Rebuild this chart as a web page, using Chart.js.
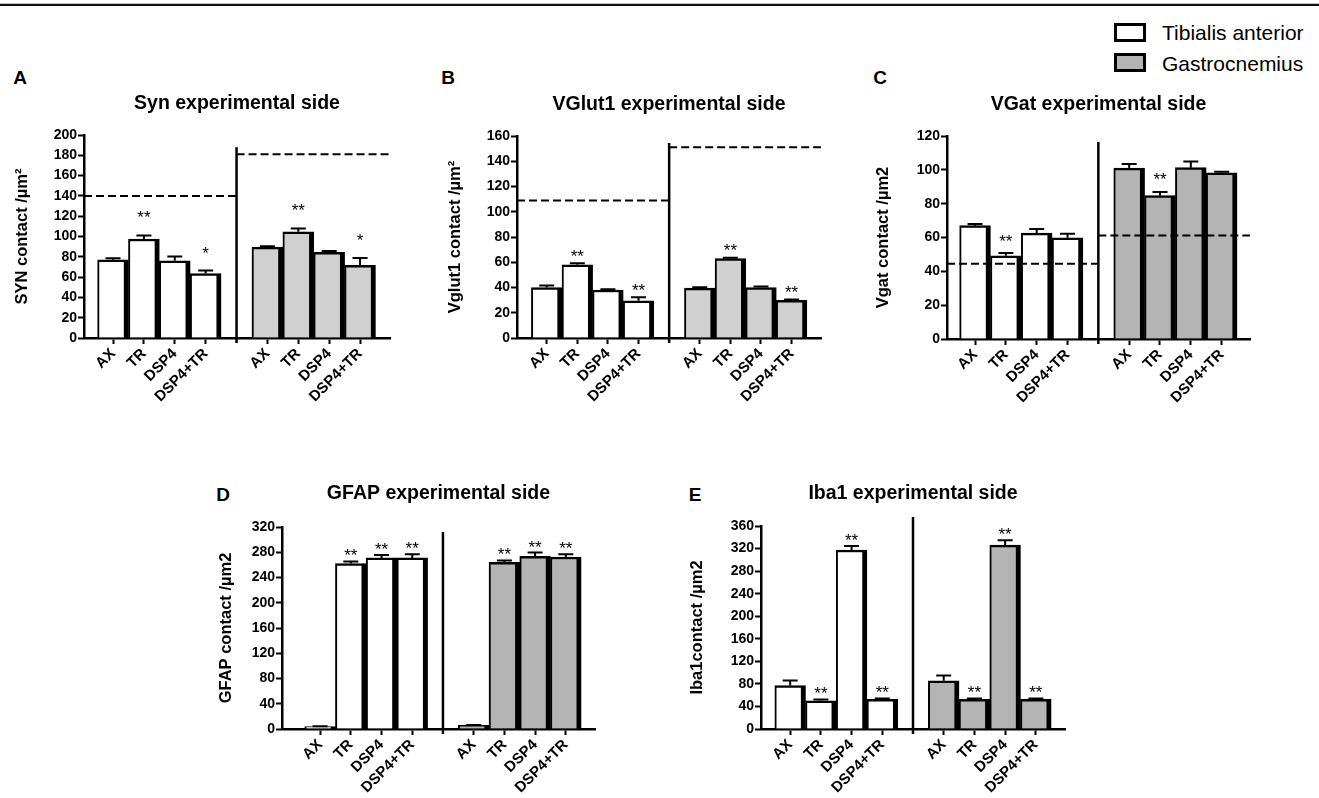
<!DOCTYPE html>
<html>
<head>
<meta charset="utf-8">
<script src="https://cdn.jsdelivr.net/npm/chart.js@4.4.1/dist/chart.umd.min.js"></script>
<style>
  body { margin: 0; width: 1319px; height: 798px; background: #fff; position: relative; overflow: hidden;
         font-family: "Liberation Sans", Arial, sans-serif; color: #000; }
  canvas { position: absolute; }
  .rule1 { position: absolute; left: 0; top: 3px; width: 1319px; height: 1px; background: #c8c8c8; }
  .rule2 { position: absolute; left: 0; top: 4px; width: 1319px; height: 2px; background: #111; }
  .letter { position: absolute; font-weight: bold; font-size: 19px; line-height: 1; transform: translate(-50%, -50%); }
  .lbox { position: absolute; left: 1114px; width: 32px; height: 19px; box-sizing: border-box; border: 3px solid #000; }
  .ltext { position: absolute; left: 1162px; font-size: 21px; line-height: 1; transform: translateY(-50%); }
</style>
</head>
<body>
<div class="rule1"></div>
<div class="rule2"></div>

<div class="lbox" style="top:23px;background:#fff"></div>
<div class="ltext" style="top:32px">Tibialis anterior</div>
<div class="lbox" style="top:53px;background:#b4b4b4"></div>
<div class="ltext" style="top:63px">Gastrocnemius</div>

<div class="letter" style="left:20px;top:77px">A</div>
<div class="letter" style="left:448px;top:77px">B</div>
<div class="letter" style="left:880px;top:77px">C</div>
<div class="letter" style="left:223px;top:494px">D</div>
<div class="letter" style="left:695px;top:494px">E</div>

<canvas id="cA"></canvas>
<canvas id="cB"></canvas>
<canvas id="cC"></canvas>
<canvas id="cD"></canvas>
<canvas id="cE"></canvas>

<script>
// groups on the x axis, repeated for each muscle
const groups = ['AX', 'TR', 'DSP4', 'DSP4+TR'];
const seriesNames = ['Tibialis anterior', 'Gastrocnemius'];

// Syn
const synTA = [77, 97.5, 76, 63.5];
const synTAErr = [1.5, 3.5, 4.3, 3];
const synGA = [89.5, 104.6, 84.5, 71.5];
const synGAErr = [1, 3.4, 1.1, 7.2];
const synControl = [140, 181];
const synStars = [['', '**', '', '*'], ['', '**', '', '*']];

// VGlut1
const vglutTA = [40, 58, 38, 29.5];
const vglutTAErr = [1.6, 1.3, 0.7, 2.8];
const vglutGA = [39.5, 63, 40, 29.8];
const vglutGAErr = [0.6, 0.6, 0.8, 0.6];
const vglutControl = [109, 151];
const vglutStars = [['', '**', '', '**'], ['', '**', '', '**']];

// VGat
const vgatTA = [67, 49.2, 62.6, 59.8];
const vgatTAErr = [1, 1.6, 2.4, 2.4];
const vgatGA = [101, 84.8, 101.3, 98.2];
const vgatGAErr = [2.4, 2.1, 3.6, 0.6];
const vgatControl = [44.5, 61.2];
const vgatStars = [['', '**', '', ''], ['', '**', '', '']];

// GFAP
const gfapTA = [4, 262, 271, 271];
const gfapTAErr = [0.5, 3.5, 4.5, 6];
const gfapGA = [6, 264, 273.5, 272.5];
const gfapGAErr = [0.5, 3, 6, 4.3];
const gfapStars = [['', '**', '**', '**'], ['', '**', '**', '**']];

// Iba1
const ibaTA = [77, 50, 317.5, 52.5];
const ibaTAErr = [9, 2.5, 7, 1.8];
const ibaGA = [85.6, 52.5, 326, 52.5];
const ibaGAErr = [9.4, 1.8, 8.7, 1.8];
const ibaStars = [['', '**', '**', '**'], ['', '**', '**', '**']];

const GAP = 4; // empty slot between the two muscles
const tickVals = groups.map((g, i) => i).concat(groups.map((g, i) => i + GAP + 1));
const labelAt = v => groups[v > GAP ? v - GAP - 1 : v] || '';

Chart.defaults.font.family = '"Liberation Sans", Arial, sans-serif';
Chart.defaults.color = '#000';

// divider, control level lines, error bars and stars
const extras = {
  id: 'extras',
  afterDatasetsDraw(chart, args, o) {
    const { ctx, chartArea: a, scales: { x, y } } = chart;
    ctx.save();
    const xd = x.getPixelForValue(GAP);
    ctx.strokeStyle = '#000';
    ctx.lineWidth = 2.5;
    ctx.beginPath();
    ctx.moveTo(xd, y.getPixelForValue(o.dividerTop));
    ctx.lineTo(xd, a.bottom + 5);
    ctx.stroke();

    if (o.control) {
      ctx.lineWidth = 2;
      ctx.setLineDash([8, 4]);
      [[a.left, xd], [xd, a.right]].forEach(([x0, x1], k) => {
        const yy = y.getPixelForValue(o.control[k]);
        ctx.beginPath();
        ctx.moveTo(x0, yy);
        ctx.lineTo(x1, yy);
        ctx.stroke();
      });
      ctx.setLineDash([]);
    }

    ctx.lineWidth = 2;
    ctx.fillStyle = '#000';
    ctx.font = '17px "Liberation Sans", Arial, sans-serif';
    ctx.textAlign = 'center';
    chart.data.datasets.forEach((ds, di) => {
      chart.getDatasetMeta(di).data.forEach((bar, i) => {
        const v = ds.data[i].y;
        const y0 = y.getPixelForValue(v);
        const y1 = y.getPixelForValue(v + o.err[di][i]);
        ctx.beginPath();
        ctx.moveTo(bar.x, y0);
        ctx.lineTo(bar.x, y1);
        ctx.moveTo(bar.x - 7.5, y1);
        ctx.lineTo(bar.x + 7.5, y1);
        ctx.stroke();
        const s = o.stars[di][i];
        if (s) ctx.fillText(s, bar.x, y1 - o.starOff + 9.5);
      });
    });
    ctx.restore();
  }
};

function makePanel(id, p) {
  const titleLH = 19.5 * 1.2, yTitleLH = 16.5 * 1.2;
  const cv = document.getElementById(id);
  cv.width = p.box.w;
  cv.height = p.box.h;
  cv.style.left = p.box.x + 'px';
  cv.style.top = p.box.y + 'px';

  new Chart(cv, {
    type: 'bar',
    data: {
      datasets: [
        { label: seriesNames[0], data: p.ta.map((v, i) => ({ x: i, y: v })), backgroundColor: '#ffffff' },
        { label: seriesNames[1], data: p.ga.map((v, i) => ({ x: i + GAP + 1, y: v })), backgroundColor: p.gray }
      ]
    },
    options: {
      responsive: false,
      animation: false,
      layout: { padding: { left: 0, top: 0, bottom: 0, right: p.box.x + p.box.w - p.plot.right } },
      datasets: {
        bar: {
          grouped: false,
          categoryPercentage: 1,
          barPercentage: 1,
          borderColor: '#000',
          borderWidth: { left: 2, top: 2.5, right: 5, bottom: 0 },
          borderSkipped: 'start'
        }
      },
      plugins: {
        legend: { display: false },
        tooltip: { enabled: false },
        title: {
          display: true,
          text: p.title,
          fullSize: false,
          color: '#000',
          font: { size: 19.5, weight: 'bold', lineHeight: 1.2 },
          padding: { top: p.titleY - p.box.y - titleLH / 2, bottom: p.plot.top - p.titleY - titleLH / 2 }
        },
        extras: { dividerTop: p.dividerTop, control: p.control, err: [p.taErr, p.gaErr], stars: p.stars, starOff: p.starOff }
      },
      scales: {
        x: {
          type: 'linear',
          min: p.xMin,
          max: p.xMax,
          offset: false,
          afterBuildTicks: s => { s.ticks = tickVals.map(v => ({ value: v })); },
          afterFit: s => { s.height = p.box.y + p.box.h - p.plot.bottom; },
          ticks: {
            autoSkip: false,
            minRotation: 45,
            maxRotation: 45,
            padding: 1,
            font: { size: 15, weight: 'bold' },
            callback: v => labelAt(v)
          },
          grid: { offset: false, drawOnChartArea: false, color: '#000', tickLength: 6, tickWidth: 2 },
          border: { color: '#000', width: 2.5 }
        },
        y: {
          min: 0,
          max: p.yMax,
          afterFit: s => { s.width = p.plot.left - p.box.x; },
          ticks: { stepSize: p.step, padding: 1, font: { size: 14, weight: 'bold' } },
          grid: { drawOnChartArea: false, color: '#000', tickLength: 6, tickWidth: 2 },
          border: { color: '#000', width: 2.5 },
          title: {
            display: true,
            text: p.yTitle,
            color: '#000',
            font: { size: 16.5, weight: 'bold', lineHeight: 1.2 },
            padding: { top: p.yTitleX - p.box.x - yTitleLH / 2, bottom: 0 }
          }
        }
      }
    },
    plugins: [extras]
  });
}

makePanel('cA', {
  title: 'Syn experimental side', yTitle: 'SYN contact /µm²',
  ta: synTA, taErr: synTAErr, ga: synGA, gaErr: synGAErr, control: synControl, stars: synStars,
  box: { x: 0, y: 60, w: 420, h: 350 }, plot: { left: 84, right: 390, top: 135, bottom: 338 },
  titleY: 104, yTitleX: 22, xMin: -0.94, xMax: 8.97, yMax: 200, step: 20,
  dividerTop: 188, starOff: 21.5, gray: '#d0d0d0'
});

makePanel('cB', {
  title: 'VGlut1 experimental side', yTitle: 'Vglut1 contact /µm²',
  ta: vglutTA, taErr: vglutTAErr, ga: vglutGA, gaErr: vglutGAErr, control: vglutControl, stars: vglutStars,
  box: { x: 430, y: 60, w: 420, h: 350 }, plot: { left: 517, right: 821, top: 136, bottom: 338 },
  titleY: 105, yTitleX: 455, xMin: -0.97, xMax: 8.96, yMax: 160, step: 20,
  dividerTop: 154.5, starOff: 11, gray: '#d0d0d0'
});

makePanel('cC', {
  title: 'VGat experimental side', yTitle: 'Vgat contact /µm2',
  ta: vgatTA, taErr: vgatTAErr, ga: vgatGA, gaErr: vgatGAErr, control: vgatControl, stars: vgatStars,
  box: { x: 860, y: 60, w: 420, h: 350 }, plot: { left: 947, right: 1250, top: 136, bottom: 339 },
  titleY: 105, yTitleX: 883, xMin: -0.91, xMax: 8.92, yMax: 120, step: 20,
  dividerTop: 116.5, starOff: 16, gray: '#b4b4b4'
});

makePanel('cD', {
  title: 'GFAP experimental side', yTitle: 'GFAP contact /µm2',
  ta: gfapTA, taErr: gfapTAErr, ga: gfapGA, gaErr: gfapGAErr, control: null, stars: gfapStars,
  box: { x: 200, y: 470, w: 420, h: 328 }, plot: { left: 282, right: 595, top: 527, bottom: 729 },
  titleY: 494, yTitleX: 226, xMin: -1.24, xMax: 8.95, yMax: 320, step: 40,
  dividerTop: 312, starOff: 9.5, gray: '#b4b4b4'
});

makePanel('cE', {
  title: 'Iba1 experimental side', yTitle: 'Iba1contact /µm2',
  ta: ibaTA, taErr: ibaTAErr, ga: ibaGA, gaErr: ibaGAErr, control: null, stars: ibaStars,
  box: { x: 670, y: 470, w: 420, h: 328 }, plot: { left: 761, right: 1065, top: 526, bottom: 729 },
  titleY: 494, yTitleX: 697, xMin: -0.95, xMax: 8.95, yMax: 360, step: 40,
  dividerTop: 376, starOff: 9.5, gray: '#b4b4b4'
});
</script>
</body>
</html>
